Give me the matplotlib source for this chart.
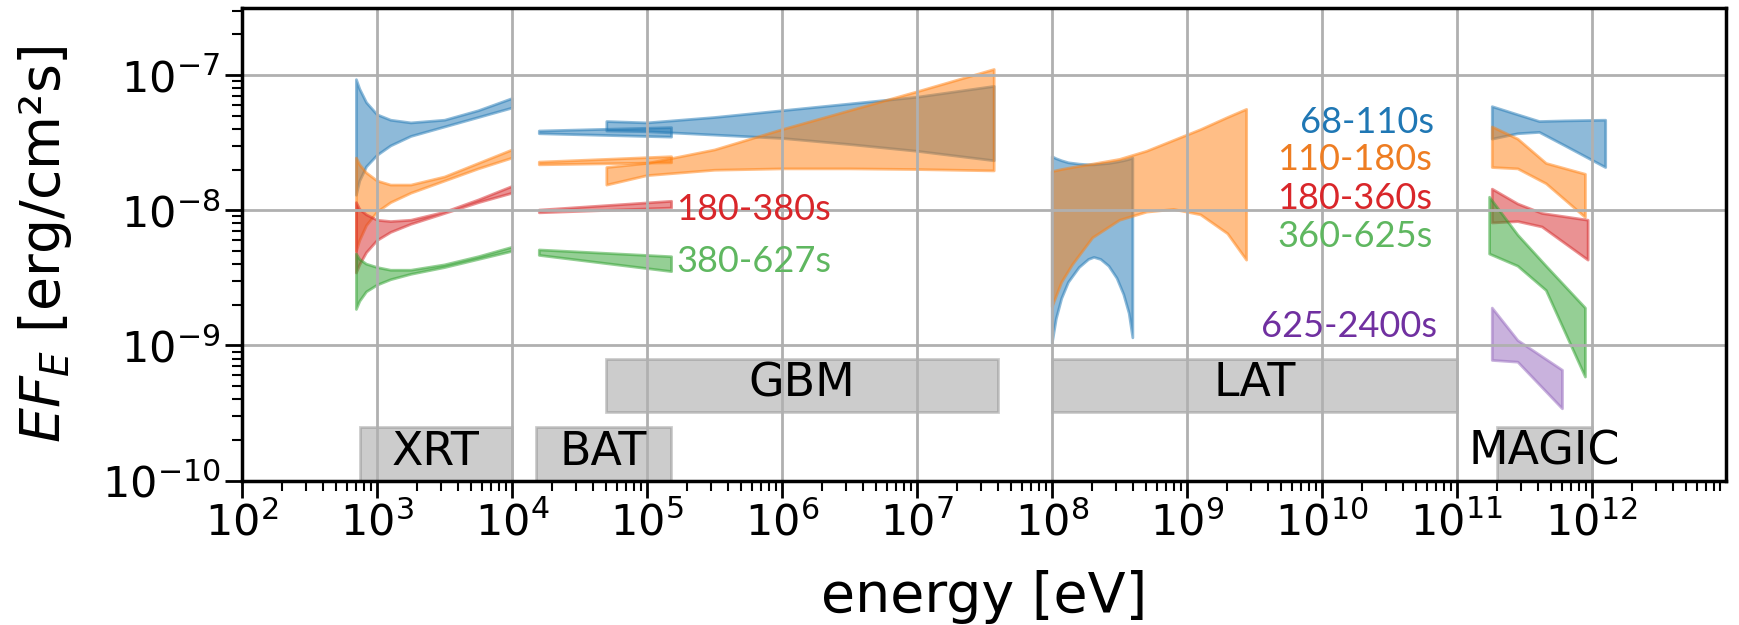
import matplotlib

matplotlib.use("Agg")
import matplotlib.pyplot as plt
import numpy as np
from matplotlib.patches import Rectangle

# ---- data: log10(energy / eV) and log10(EF_E / erg cm^-2 s^-1) ----
# XRT butterflies
xrt_x = [2.845, 2.87, 2.92, 3.0, 3.1, 3.25, 3.5, 3.75, 4.0]
xrt_blue_up = [-7.03, -7.10, -7.20, -7.29, -7.33, -7.35, -7.33, -7.26, -7.17]
xrt_blue_lo = [-7.885, -7.78, -7.675, -7.59, -7.52, -7.45, -7.38, -7.31, -7.24]
xrt_orange_up = [-7.61, -7.66, -7.72, -7.78, -7.81, -7.81, -7.75, -7.65, -7.55]
xrt_orange_lo = [-8.30, -8.22, -8.11, -8.01, -7.94, -7.87, -7.78, -7.69, -7.61]
xrt_red_up = [-7.94, -7.99, -8.03, -8.07, -8.08, -8.07, -8.01, -7.92, -7.82]
xrt_red_lo = [-8.46, -8.40, -8.31, -8.22, -8.16, -8.10, -8.02, -7.94, -7.87]
xrt_green_up = [-8.32, -8.36, -8.395, -8.42, -8.44, -8.44, -8.40, -8.34, -8.27]
xrt_green_lo = [-8.73, -8.67, -8.60, -8.55, -8.51, -8.47, -8.42, -8.36, -8.30]

# BAT butterflies
bat_x = [4.2, 5.18]
bat_blue_up = [-7.41, -7.385]
bat_blue_lo = [-7.43, -7.455]
bat_orange_up = [-7.64, -7.60]
bat_orange_lo = [-7.66, -7.645]
bat_red_up = [-7.995, -7.93]
bat_red_lo = [-8.015, -7.98]
bat_green_up = [-8.29, -8.34]
bat_green_lo = [-8.33, -8.45]

# GBM butterflies
gbm_x = [4.7, 5.0, 5.5, 6.0, 6.5, 7.0, 7.57]
gbm_blue_up = [-7.34, -7.35, -7.31, -7.26, -7.21, -7.16, -7.08]
gbm_blue_lo = [-7.41, -7.415, -7.44, -7.465, -7.51, -7.56, -7.63]
gbm_orange_up = [-7.68, -7.65, -7.55, -7.40, -7.26, -7.12, -6.955]
gbm_orange_lo = [-7.81, -7.74, -7.70, -7.69, -7.69, -7.695, -7.705]

# LAT butterflies
lat_blue_x = [8.0, 8.03, 8.07, 8.12, 8.2, 8.27, 8.31, 8.36, 8.42, 8.48,
              8.53, 8.57, 8.597]
lat_blue_up = [-7.60, -7.615, -7.63, -7.645, -7.655, -7.66, -7.66, -7.655,
               -7.65, -7.64, -7.63, -7.62, -7.61]
lat_blue_lo = [-8.98, -8.80, -8.65, -8.53, -8.42, -8.36, -8.345, -8.36,
               -8.41, -8.50, -8.62, -8.76, -8.94]
lat_orange_x = [8.0, 8.07, 8.15, 8.3, 8.5, 8.7, 8.9, 9.1, 9.3, 9.44]
lat_orange_up = [-7.71, -7.695, -7.68, -7.655, -7.62, -7.56, -7.48, -7.40,
                 -7.31, -7.25]
lat_orange_lo = [-8.71, -8.53, -8.40, -8.20, -8.07, -8.01, -7.99, -8.03,
                 -8.17, -8.365]

# MAGIC butterflies
magic_blue_x = [11.26, 11.45, 11.61, 11.80, 12.10]
magic_blue_up = [-7.23, -7.29, -7.34, -7.335, -7.33]
magic_blue_lo = [-7.47, -7.43, -7.42, -7.52, -7.68]
magic_orange_x = [11.26, 11.45, 11.66, 11.95]
magic_orange_up = [-7.38, -7.47, -7.65, -7.73]
magic_orange_lo = [-7.68, -7.69, -7.80, -8.05]
magic_red_x = [11.26, 11.45, 11.63, 11.97]
magic_red_up = [-7.84, -7.95, -8.02, -8.07]
magic_red_lo = [-8.09, -8.08, -8.12, -8.365]
magic_green_x = [11.24, 11.45, 11.66, 11.95]
magic_green_up = [-7.90, -8.18, -8.41, -8.72]
magic_green_lo = [-8.32, -8.41, -8.59, -9.23]
magic_purple_x = [11.26, 11.45, 11.78]
magic_purple_up = [-8.72, -8.96, -9.18]
magic_purple_lo = [-9.107, -9.12, -9.465]

# instrument ranges [eV] and flux extents
instruments = ["XRT", "BAT", "GBM", "LAT", "MAGIC"]
inst_emin = [7.5e2, 1.5e4, 5e4, 1e8, 2e11]
inst_emax = [1e4, 1.5e5, 4e7, 1e11, 1e12]
inst_fmin = [5e-11, 5e-11, 3.2e-10, 3.2e-10, 5e-11]
inst_fmax = [2.5e-10, 2.5e-10, 8e-10, 8e-10, 2.5e-10]
inst_text_y = [1.62e-10, 1.62e-10, 5.2e-10, 5.2e-10, 1.62e-10]

# time-interval labels
periods = ["68-110s", "110-180s", "180-360s", "360-625s", "625-2400s"]
period_x = [6.8e10, 6.6e10, 6.6e10, 6.6e10, 7.2e10]
period_y = [4.43e-8, 2.37e-8, 1.23e-8, 6.4e-9, 1.38e-9]
period_colors = ["#1f77b4", "#ee7d22", "#d9262a", "#5fb760", "#7030a0"]
bat_labels = ["180-380s", "380-627s"]
bat_label_y = [1.01e-8, 4.17e-9]
bat_label_colors = ["#d9262a", "#5fb760"]

C_BLUE, C_ORANGE, C_RED, C_GREEN, C_PURPLE = (
    "tab:blue", "tab:orange", "tab:red", "tab:green", "tab:purple")

bands = [
    (xrt_x, xrt_blue_lo, xrt_blue_up, C_BLUE),
    (xrt_x, xrt_orange_lo, xrt_orange_up, C_ORANGE),
    (xrt_x, xrt_red_lo, xrt_red_up, C_RED),
    (xrt_x, xrt_green_lo, xrt_green_up, C_GREEN),
    (bat_x, bat_blue_lo, bat_blue_up, C_BLUE),
    (bat_x, bat_orange_lo, bat_orange_up, C_ORANGE),
    (bat_x, bat_red_lo, bat_red_up, C_RED),
    (bat_x, bat_green_lo, bat_green_up, C_GREEN),
    (gbm_x, gbm_blue_lo, gbm_blue_up, C_BLUE),
    (gbm_x, gbm_orange_lo, gbm_orange_up, C_ORANGE),
    (lat_blue_x, lat_blue_lo, lat_blue_up, C_BLUE),
    (lat_orange_x, lat_orange_lo, lat_orange_up, C_ORANGE),
    (magic_blue_x, magic_blue_lo, magic_blue_up, C_BLUE),
    (magic_orange_x, magic_orange_lo, magic_orange_up, C_ORANGE),
    (magic_red_x, magic_red_lo, magic_red_up, C_RED),
    (magic_green_x, magic_green_lo, magic_green_up, C_GREEN),
    (magic_purple_x, magic_purple_lo, magic_purple_up, C_PURPLE),
]

plt.rcParams["font.family"] = "DejaVu Sans"

fig = plt.figure(figsize=(17.4, 6.25), dpi=100)
ax = fig.add_axes([0.139, 0.231, 0.853, 0.756])
ax.set_xscale("log")
ax.set_yscale("log")

for x, lo, up, c in bands:
    ax.fill_between(10.0 ** np.asarray(x), 10.0 ** np.asarray(lo),
                    10.0 ** np.asarray(up), color=c, alpha=0.5, lw=2)

for name, e0, e1, f0, f1, ty in zip(instruments, inst_emin, inst_emax,
                                    inst_fmin, inst_fmax, inst_text_y):
    ax.add_patch(Rectangle((e0, f0), e1 - e0, f1 - f0, fc="gray", ec="gray",
                           alpha=0.4, lw=2, zorder=1))
    # label sits at the (log) centre of the instrument band
    ax.text(np.sqrt(e0 * e1), ty, name, fontsize=33, ha="center",
            va="center", zorder=5)

for lab, x, y, c in zip(periods, period_x, period_y, period_colors):
    ax.text(x, y, lab, fontsize=26, family="Lato", color=c,
            ha="right", va="center")
for lab, y, c in zip(bat_labels, bat_label_y, bat_label_colors):
    ax.text(1.65e5, y, lab, fontsize=26, family="Lato", color=c,
            ha="left", va="center")

ax.set_xlim(1e2, 9.9e12)
ax.set_ylim(1e-10, 3.13e-7)
ax.grid(True, which="major", color="#b0b0b0", lw=2)
ax.set_xlabel("energy [eV]", fontsize=40, labelpad=18)
ax.set_ylabel("$EF_E$ [erg/cm²s]", fontsize=40, labelpad=20)
ax.xaxis.set_major_locator(matplotlib.ticker.LogLocator(base=10, numticks=20))
ax.xaxis.set_minor_locator(matplotlib.ticker.LogLocator(
    base=10, subs=np.arange(2, 10), numticks=20))
ax.xaxis.set_minor_formatter(matplotlib.ticker.NullFormatter())
ax.tick_params(which="major", labelsize=31, length=12, width=2)
ax.tick_params(which="minor", length=7, width=1.5)
for sp in ax.spines.values():
    sp.set_linewidth(2.5)

fig.savefig("out.png", dpi=100)
